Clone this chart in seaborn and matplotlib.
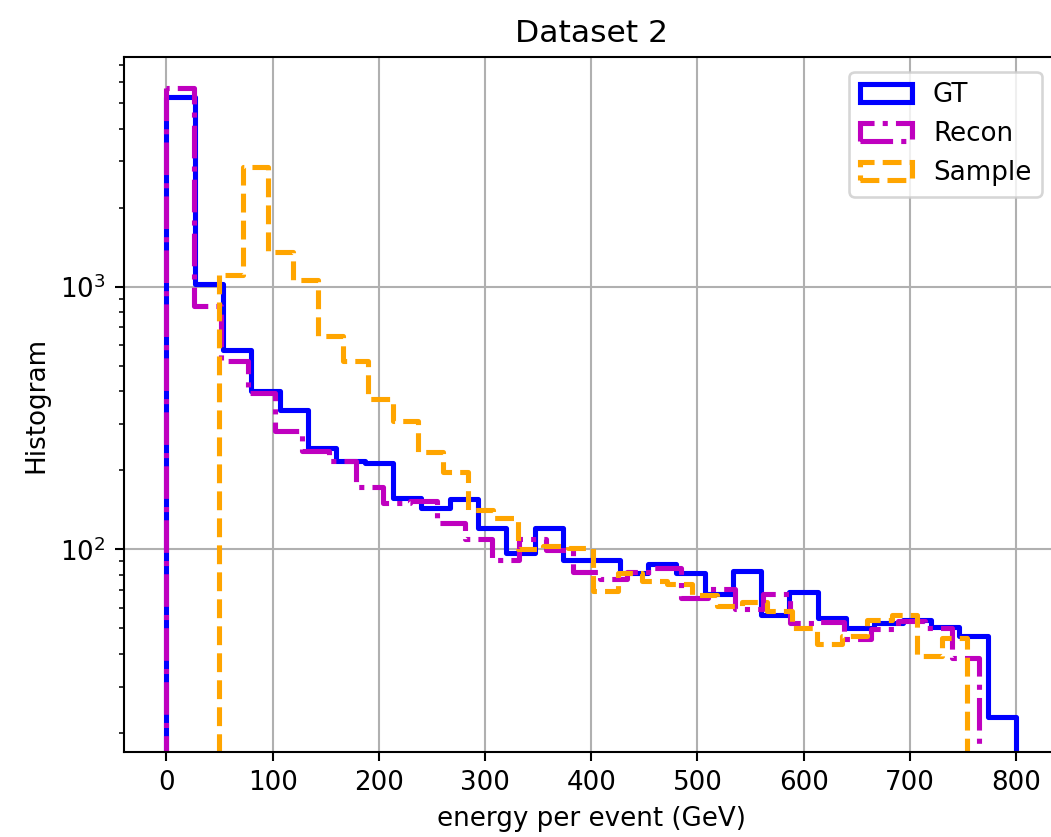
import numpy as np
import matplotlib
matplotlib.use("Agg")
import matplotlib.pyplot as plt
from matplotlib.patches import Patch
import seaborn as sns

# ---- data ----
n_bins = 30
gt_range = (0.0, 800.0)
recon_range = (0.0, 765.4)
sample_range = (49.0, 753.5)

gt_counts = [5290, 1020, 575, 400, 338, 244, 217, 214, 157, 143,
             155, 121, 97, 120, 91, 91, 81, 88, 81, 67.5,
             83, 56, 69, 54.7, 50.1, 52.3, 53.9, 50.5, 46.8, 22.9]
recon_counts = [5694, 847, 520, 395, 281, 236, 217, 172, 150, 153,
                126, 109, 91, 109, 99.5, 82, 77, 82, 85, 65,
                70.5, 59, 67.8, 52.6, 53, 45.5, 49.7, 53.4, 50.2, 38.4]
sample_counts = [1110, 2860, 1360, 1065, 647, 520, 372, 307, 235, 197,
                 141, 132, 100, 103, 101, 69.3, 81, 75.4, 73.6, 67,
                 61, 63, 58, 50.2, 43.4, 46.8, 53.7, 56.2, 39.3, 46.1]

labels = ["GT", "Recon", "Sample"]
colors = ["blue", "m", "orange"]
styles = ["-", "-.", "--"]

title = "Dataset 2"
xlabel = "energy per event (GeV)"
ylabel = "Histogram"
xticks = [0, 100, 200, 300, 400, 500, 600, 700, 800]

DPI = 188
LW = 1.95
fig = plt.figure(figsize=(1051 / DPI, 837 / DPI), dpi=DPI)
ax = fig.add_axes([124 / 1051, 1 - 751.7 / 837, (1058.5 - 124) / 1051, (751.7 - 57.3) / 837])

series = [(gt_range, gt_counts), (recon_range, recon_counts), (sample_range, sample_counts)]
for (rng, counts), c, ls in zip(series, colors, styles):
    edges = np.linspace(rng[0], rng[1], n_bins + 1)
    centers = (edges[:-1] + edges[1:]) / 2
    sns.histplot(x=centers, weights=counts, bins=list(edges), element="step", fill=True,
                 color=c, facecolor="none", edgecolor=c, alpha=1,
                 linestyle=ls, linewidth=LW, ax=ax)

ax.set_yscale("log")
ax.set_xlim(-40, 840)
ax.set_ylim(16.95, 7475)
ax.set_xticks(xticks)
ax.grid(True)
ax.set_axisbelow(True)
ax.set_title(title)
ax.set_xlabel(xlabel)
ax.set_ylabel(ylabel)

handles = [Patch(facecolor="none", edgecolor=c, linestyle=ls, linewidth=LW, label=l)
           for l, c, ls in zip(labels, colors, styles)]
ax.legend(handles=handles, loc="upper right",
          bbox_to_anchor=(1041.7 / 1051, 1 - 71.7 / 837),
          bbox_transform=fig.transFigure, borderaxespad=0)

fig.savefig("out.png", dpi=DPI)
